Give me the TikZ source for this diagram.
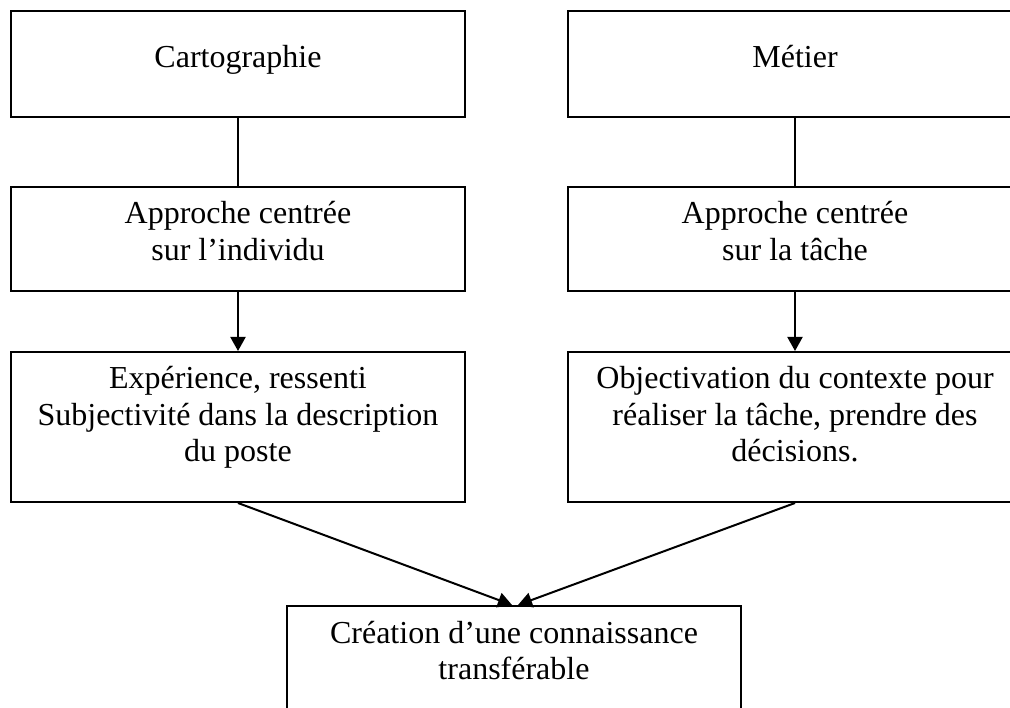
\documentclass[tikz,border=0pt]{standalone}
\usepackage{fontspec}
\setmainfont{Liberation Serif}
\usetikzlibrary{arrows.meta,calc}
\begin{document}
\begin{tikzpicture}[x=1pt,y=-1pt,
  box/.style={draw, line width=2pt, minimum width=454pt, inner sep=0pt, anchor=north west},
  txt/.style={font=\fontsize{32}{36.4}\selectfont, align=center, anchor=north, inner sep=0pt, execute at begin node=\strut},
  link/.style={line width=2pt},
  arr/.style={line width=2pt, -{Triangle[length=14pt,width=15pt]}}]
\useasboundingbox (0,0) rectangle (1010,708);
\node[box, minimum height=106pt] (carto) at (10,10) {};
\node[box, minimum height=106pt] (metier) at (567,10) {};
\node[box, minimum height=104pt] (appi) at (10,186) {};
\node[box, minimum height=104pt] (appt) at (567,186) {};
\node[box, minimum height=150pt] (exp) at (10,351) {};
\node[box, minimum height=150pt] (obj) at (567,351) {};
\node[box, minimum height=107pt] (cre) at (286,605) {};
\node[txt] (cartot) at ($(carto.north)+(0,31.5)$) {Cartographie};
\node[txt] (metiert) at ($(metier.north)+(0,31.5)$) {Métier};
\node[txt] (appit) at ($(appi.north)+(0,15.5)$) {Approche centrée\\sur l’individu};
\node[txt] (apptt) at ($(appt.north)+(0,15.5)$) {Approche centrée\\sur la tâche};
\node[txt] (expt) at ($(exp.north)+(0,15.5)$) {Expérience, ressenti\\Subjectivité dans la description\\du poste};
\node[txt] (objt) at ($(obj.north)+(0,15.5)$) {Objectivation du contexte pour\\réaliser la tâche, prendre des\\décisions.};
\node[txt] (cret) at ($(cre.north)+(0,16)$) {Création d’une connaissance\\transférable};
\draw[link] (carto.south) -- (appi.north);
\draw[link] (metier.south) -- (appt.north);
\draw[arr] (appi.south) -- (exp.north);
\draw[arr] (appt.south) -- (obj.north);
\draw[arr] (exp.south) -- ($(cre.north)+(-2,0)$);
\draw[arr] (obj.south) -- ($(cre.north)+(4,0)$);
\end{tikzpicture}
\end{document}
